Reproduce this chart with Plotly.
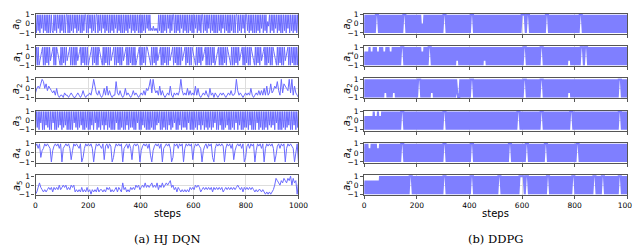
import plotly.graph_objects as go

# ---------------- data (levels 0..8 map to -1..1, i.e. value = (d-4)/4) ----------------
# HJ DQN actions
hj_a0 = ("8081808280" "8180808081" "0818082808" "1808088080" "8180828081"
         "8080818808" "0828081808" "8081808280" "8180808180" "8280818080"
         "8081808280" "8180818080" "8081808281" "8121312120" "8180808180"
         "8280818808" "0818082808" "1808081808" "0828081808" "8081808280"
         "8180808081" "8082808180" "8081808088" "0818082808" "8180818080"
         "8081808280" "8180538081" "8082808180" "8081808280" "8180818080")
hj_a1 = ("0808024680" "8081808246" "8080864208" "0818082468" "0808080824"
         "6808180808" "0246808180" "8086420808" "1808082468" "0808180808"
         "2468080818" "0808024680" "8081808864" "2080818082" "4680808180"
         "8082468081" "8080808246" "8081808086" "4208081808" "2468080808"
         "0818024680" "8080818086" "4208080818" "0824680808" "1808086420"
         "8081808246" "8080818080" "8642080818" "0808246808" "0818080808")
hj_a2 = ("2454687463" "5432314101" "1021101210" "0121013101" "1214852131"
         "0141513101" "1721310141" "2101312101" "2131435828" "4231513101"
         "2151021213" "8312141312" "1514101213" "1041202101" "2121012131"
         "1283121012" "1214101213" "1314151262" "3547318265" "4382815210")
hj_a3 = ("0818083808" "0828180808" "3808081828" "0818280808" "0808381808"
         "1828080818" "0808280838" "0818082808" "2808180808" "0838080818"
         "0808280818" "1808083808" "0828180808" "0818080828" "3808081808"
         "0828081838" "0808280818" "1808380808" "0818082808" "2808180818"
         "0818380808" "2808081828" "0808180838" "0828080818" "1808280808"
         "0838081808" "0818082818" "2808380808" "0818081828" "0808280818")
hj_a4 = ("7868256878" "7605787868" "0678786158" "7876802687" "8786058787"
         "6817868702" "6878780678" "6861787870" "5787868305" "7878680678"
         "7860287868" "7806878781" "6878760578" "6878206878" "7870687868"
         "1578786802" "7868780587" "8680687878" "6037868780" "6878760480")
hj_a5 = ("0135321212" "3231323242" "3434232434" "1212131213" "1202121312"
         "2121323121" "2313215231" "2132324342" "3435343453" "4352435345"
         "4563423132" "1212121323" "2434312323" "2323132323" "2312323232"
         "3234323132" "3232321212" "2121010101" "2476546576" "5768475605")

# DDPG actions
dd_a0 = ("0808080808" "0888080808" "0808080808" "0808080888" "0808080808"
         "0808040808" "0808080808" "0808088808" "0808080808" "0808080808"
         "0888080808" "0808080808" "0808080808" "0808080808" "0808080808"
         "8880888080" "8080808080" "8088808080" "8080808080" "8080808080"
         "8080888080" "8080808080" "8080808080" "8080808080" "8080808080")
dd_a1 = ("0606080608" "0806080806" "0808060808" "0808088808" "0808080808"
         "0808060808" "0888080808" "0808080808" "0808080828" "0808080808"
         "0808080808" "0808280808" "0808080808" "0808080808" "0808080808"
         "0888080808" "0808080888" "0808080808" "0808080808" "0808280808"
         "0808088808" "8808080808" "0808080808" "0808080808" "0808080808")
dd_a2 = ("0808080808" "0808080808" "2808080828" "0808080808" "0808080808"
         "0888080808" "0808280808" "0808080808" "0808080820" "0808080808"
         "0888080808" "0808080808" "0808080808" "0808080808" "0808080808"
         "0888080808" "0808080888" "0808080808" "0808080808" "0808280808"
         "0808080808" "0808080808" "0808080808" "0808080808" "0888080808")
dd_a3 = ("0606060608" "0608060808" "0808080808" "0808088808" "0808080808"
         "0808080808" "0808080808" "0808088808" "0808080808" "0808080808"
         "0808080808" "0808080808" "0808080808" "0808080808" "0808088808"
         "0808080808" "0808080888" "0808080808" "0808080808" "0808088808"
         "0808080808" "0808080808" "0808080808" "0808080808" "0888080808")
dd_a4 = ("0808060808" "0806080808" "0808080808" "0808088808" "0808080808"
         "0808080808" "0808080808" "0808088808" "0808080808" "0808080808"
         "0888080808" "0808080808" "0808080808" "0808080888" "0808080808"
         "0808880808" "0808080808" "0888080808" "0808080808" "0808080808"
         "0888080808" "0808080808" "0808080808" "0808080808" "0808080808")
dd_a5 = ("0606060606" "0606080808" "0808080808" "0808080808" "0808880808"
         "0808080808" "0808080808" "0808088808" "0808080808" "0808080808"
         "0888080808" "0808080808" "0808080888" "0808080808" "0808080888"
         "8808880808" "0808080808" "0808880808" "0808080808" "0808080888"
         "0808080808" "0808080888" "0808088808" "0808080808" "0888080808")

hj_series = [hj_a0, hj_a1, hj_a2, hj_a3, hj_a4, hj_a5]
dd_series = [dd_a0, dd_a1, dd_a2, dd_a3, dd_a4, dd_a5]
y_labels = ["<i>a</i><sub>%d</sub>" % i for i in range(6)]
x_ticks = [0, 200, 400, 600, 800, 1000]
y_ticks = [-1, 0, 1]
captions = ["(a) HJ DQN", "(b) DDPG"]
x_title = "steps"
T_MAX = 1000


def decode(s):
    return [(int(c) - 4) / 4 for c in s]


def steps_for(n):
    return [i * T_MAX / (n - 1) for i in range(n)]


# ---------------- layout ----------------
W, H = 640, 246
col_px = [(26, 294), (361, 629)]
row_top = [3, 36.2, 69.4, 102.6, 135.8, 169.0]
row_h = 20.5
label_x_px = [7, 344]
line_w = [1.0, 2.1]
line_c = ["#6a6aff", "#7f7fff"]

FRAME = "#555555"
GRID = "#dddddd"
TICKFONT = dict(family="DejaVu Sans", size=7.5, color="black")

fig = go.Figure()
layout = {}
annotations = []
k = 0
for c, series in enumerate([hj_series, dd_series]):
    for r, s in enumerate(series):
        k += 1
        vals = decode(s)
        xs = steps_for(len(vals))
        suffix = "" if k == 1 else str(k)
        fig.add_trace(go.Scatter(x=xs, y=vals, mode="lines",
                                 line=dict(color=line_c[c], width=line_w[c],
                                           simplify=False),
                                 xaxis="x" + suffix, yaxis="y" + suffix,
                                 showlegend=False, hoverinfo="skip"))
        x0, x1 = col_px[c]
        top = row_top[r]
        bot = top + row_h
        layout["xaxis" + suffix] = dict(
            domain=[x0 / W, x1 / W], anchor="y" + suffix, range=[0, T_MAX],
            tickvals=x_ticks, showticklabels=(r == 5), ticks="outside",
            ticklen=3, tickwidth=0.8, tickcolor=FRAME, tickfont=TICKFONT,
            ticklabeloverflow="allow",
            showline=True, mirror=True, linecolor=FRAME, linewidth=1.2,
            showgrid=True, gridcolor=GRID, gridwidth=0.7, zeroline=False)
        layout["yaxis" + suffix] = dict(
            domain=[1 - bot / H, 1 - top / H], anchor="x" + suffix,
            range=[-1.1, 1.1], tickvals=y_ticks, ticks="outside",
            ticklen=3, tickwidth=0.8, tickcolor=FRAME, tickfont=TICKFONT,
            showline=True, mirror=True, linecolor=FRAME, linewidth=1.2,
            showgrid=True, gridcolor=GRID, gridwidth=0.7, zeroline=False)
        annotations.append(dict(
            text=y_labels[r], x=label_x_px[c] / W, y=1 - (top + row_h / 2) / H,
            xref="paper", yref="paper", showarrow=False, textangle=-90,
            xanchor="center", yanchor="middle",
            font=dict(family="DejaVu Sans", size=10, color="black")))
    cx = (col_px[c][0] + col_px[c][1]) / 2 / W
    annotations.append(dict(text=x_title, x=cx, y=1 - 208 / H, xref="paper",
                            yref="paper", showarrow=False, xanchor="center",
                            yanchor="middle",
                            font=dict(family="DejaVu Sans", size=10, color="black")))
    annotations.append(dict(text=captions[c], x=cx, y=1 - 235 / H, xref="paper",
                            yref="paper", showarrow=False, xanchor="center",
                            yanchor="middle",
                            font=dict(family="DejaVu Serif", size=11.5, color="black")))

fig.update_layout(width=W, height=H, margin=dict(l=0, r=0, t=0, b=0),
                  paper_bgcolor="white", plot_bgcolor="white",
                  annotations=annotations, **layout)
fig.write_html("out.html")
